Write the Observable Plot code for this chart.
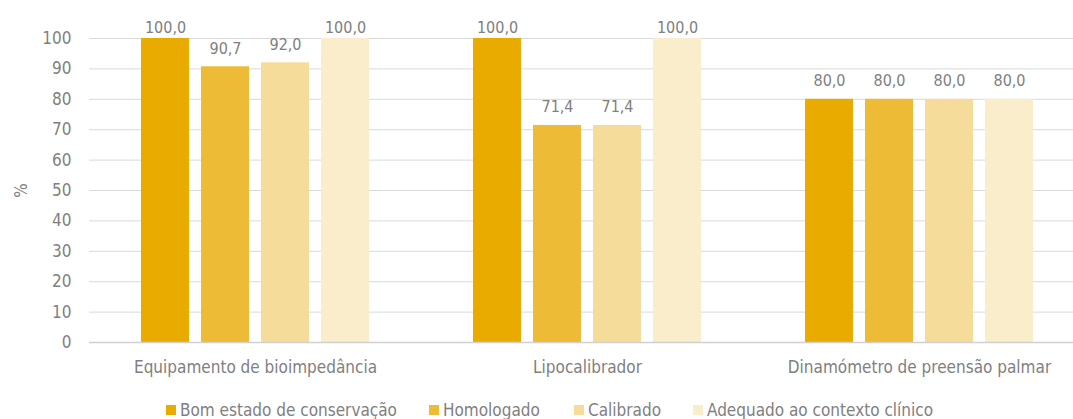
<!DOCTYPE html>
<html>
<head>
<meta charset="utf-8">
<script src="https://cdn.jsdelivr.net/npm/d3@7"></script>
<script src="https://cdn.jsdelivr.net/npm/@observablehq/plot@0.6"></script>
<style>
  html, body { margin: 0; padding: 0; background: white; overflow: hidden; width: 1073px; height: 419px; }
  #chart { position: relative; width: 1073px; }
  #chart svg { max-width: none !important; }
  .legend { font-family: "Liberation Sans Narrow", "DejaVu Sans Condensed", Roboto, sans-serif; font-size: 17px; color: #808080; position: absolute; top: 400px; left: 0; width: 1073px; }
  .item { position: absolute; display: flex; align-items: center; white-space: nowrap; }
  .sw { width: 10px; height: 10px; margin-right: 4px; display: inline-block; }
</style>
</head>
<body>
<div id="chart"></div>
<script>
const groups = ["Equipamento de bioimpedância", "Lipocalibrador", "Dinamómetro de preensão palmar"];
const series = ["Bom estado de conservação", "Homologado", "Calibrado", "Adequado ao contexto clínico"];
const bomEstado = [100.0, 100.0, 80.0];
const homologado = [90.7, 71.4, 80.0];
const calibrado = [92.0, 71.4, 80.0];
const adequado = [100.0, 100.0, 80.0];
const colors = ["#EAAB00", "#EDBB35", "#F5DC9A", "#FAEDCB"];
const yTicks = [0, 10, 20, 30, 40, 50, 60, 70, 80, 90, 100];
const legendX = [166, 429, 574, 693];

const seriesValues = [bomEstado, homologado, calibrado, adequado];
const data = groups.flatMap((g, i) => series.map((s, j) => ({group: g, series: s, value: seriesValues[j][i]})));
const fmt = v => v.toFixed(1).replace(".", ",");
const font = '"Liberation Sans Narrow", "DejaVu Sans Condensed", Roboto, sans-serif';
const labelOpts = {fx: "group", x: "series", y: "value", text: d => fmt(d.value), lineAnchor: "bottom", fill: "#808080", fontSize: 16};

const plot = Plot.plot({
  width: 1085,
  height: 392,
  marginLeft: 88,
  marginRight: 0,
  marginTop: 38,
  marginBottom: 50,
  style: {fontFamily: font, fontSize: "17px", color: "#808080", background: "white", overflow: "visible", maxWidth: "none"},
  fx: {domain: groups, padding: 0, label: null, axis: "bottom", tickSize: 0, tickPadding: 18},
  x: {domain: series, paddingInner: 0.2, paddingOuter: 0.832, axis: null},
  y: {domain: [0, 100], ticks: yTicks, tickSize: 0, tickPadding: 18, label: "%", labelAnchor: "center", labelArrow: "none", labelOffset: 75, tickFormat: d => d},
  color: {domain: series, range: colors},
  marks: [
    Plot.ruleY(yTicks.filter(d => d > 0), {stroke: "#d9d9d9", strokeWidth: 1}),
    Plot.barY(data, {fx: "group", x: "series", y: "value", fill: "series"}),
    Plot.ruleY([0], {stroke: "#d0d0d0", strokeWidth: 1.5}),
    Plot.text(data.filter(d => d.value >= 100), {...labelOpts, dy: -6}),
    Plot.text(data.filter(d => d.value < 100), {...labelOpts, dy: -13})
  ]
});
document.getElementById("chart").appendChild(plot);

const legend = document.createElement("div");
legend.className = "legend";
series.forEach((s, i) => {
  const it = document.createElement("div");
  it.className = "item";
  it.style.left = legendX[i] + "px";
  const sw = document.createElement("span");
  sw.className = "sw";
  sw.style.background = colors[i];
  const t = document.createElement("span");
  t.textContent = s;
  it.appendChild(sw);
  it.appendChild(t);
  legend.appendChild(it);
});
document.getElementById("chart").appendChild(legend);
</script>
</body>
</html>
